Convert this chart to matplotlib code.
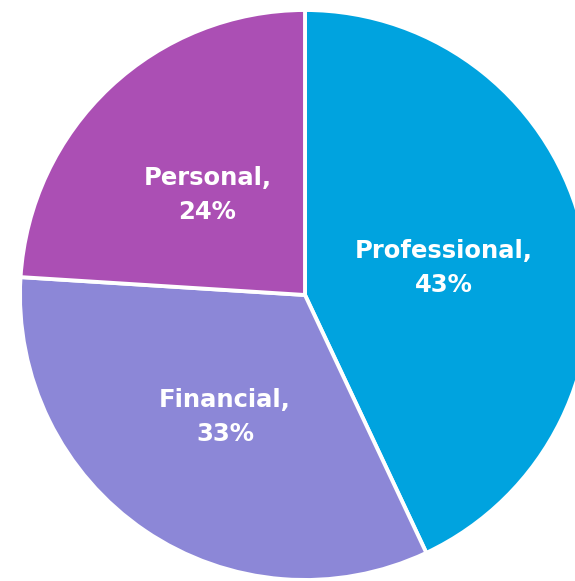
import matplotlib
matplotlib.use("Agg")
import matplotlib.pyplot as plt
import numpy as np

# slice data, clockwise from 12 o'clock
categories = ["Professional", "Financial", "Personal"]
shares = [43, 33, 24]
colors = ["#00A3DF", "#8C87D7", "#AB4FB4"]

W, H = 575, 581
cx, cy, R = 305, H - 295, 285

fig = plt.figure(figsize=(W / 100, H / 100), dpi=100)
ax = fig.add_axes([0, 0, 1, 1])

ax.pie(
    shares,
    colors=colors,
    startangle=90,
    counterclock=False,
    center=(cx, cy),
    radius=R,
    wedgeprops=dict(edgecolor="white", linewidth=2.8),
    frame=True,
)

# labels in the middle of each wedge (nudged down a few px like the original)
total = sum(shares)
theta = 90.0
for name, v in zip(categories, shares):
    span = v / total * 360
    mid = np.deg2rad(theta - span / 2)
    theta -= span
    x = cx + 0.5 * R * np.cos(mid)
    y = cy + 0.5 * R * np.sin(mid) - 4
    ax.text(x, y, f"{name},\n{v}%", ha="center", va="center",
            color="white", fontsize=17.5, fontweight="bold",
            family="DejaVu Sans", linespacing=1.5)

ax.set_xlim(0, W)
ax.set_ylim(0, H)
ax.set_aspect("equal")
ax.axis("off")
fig.savefig("out.png", dpi=100)
